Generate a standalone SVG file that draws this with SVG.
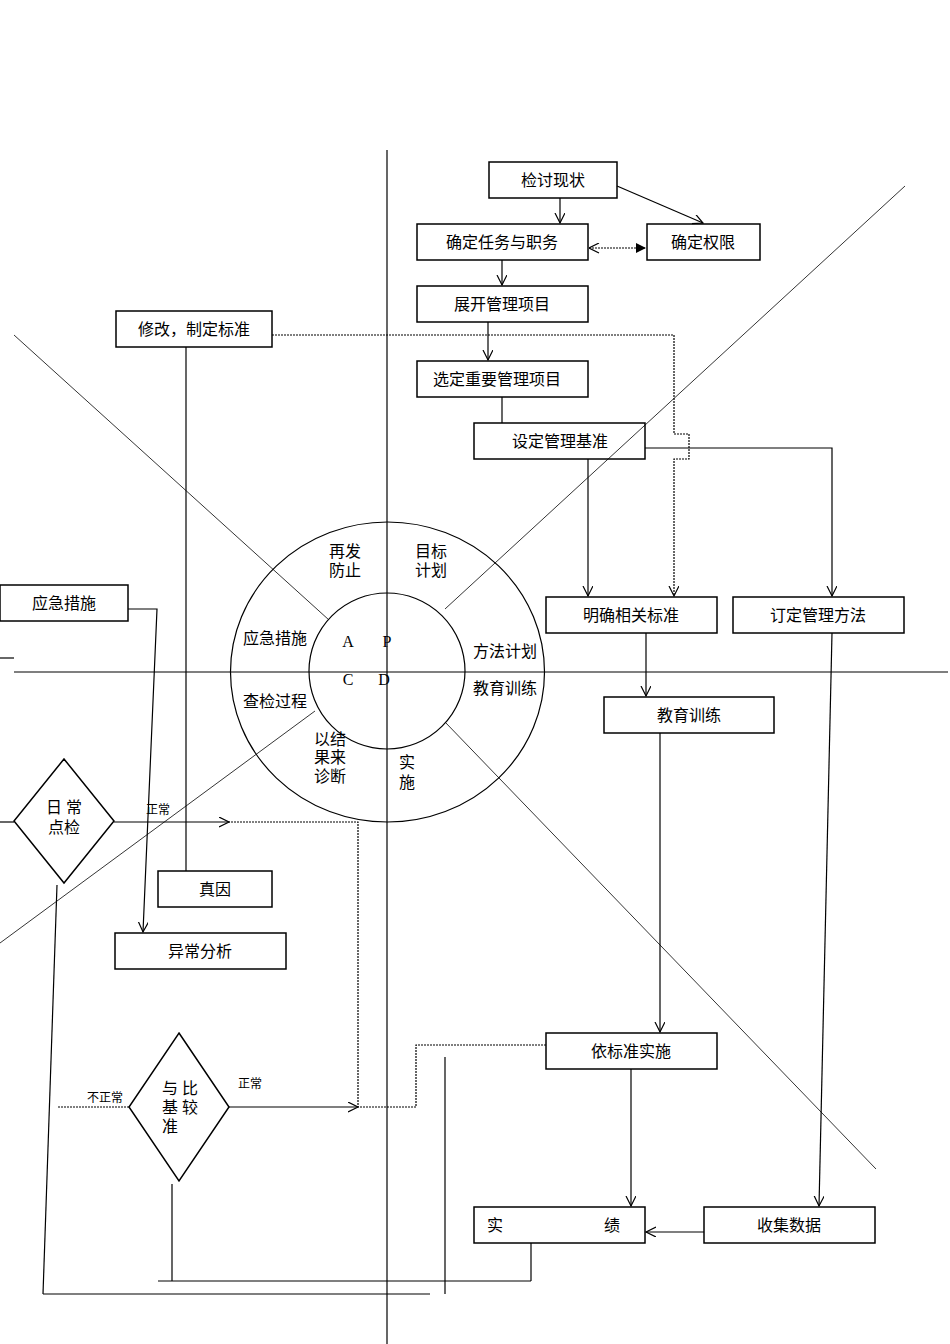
<svg xmlns="http://www.w3.org/2000/svg" width="950" height="1344" viewBox="0 0 950 1344">
<defs>
<marker id="a" markerWidth="12" markerHeight="12" refX="10" refY="5" orient="auto" markerUnits="userSpaceOnUse"><path d="M0,0 L10,5 L0,10" fill="none" stroke="#000" stroke-width="1.2"/></marker>
<marker id="f" markerWidth="12" markerHeight="12" refX="10" refY="5" orient="auto" markerUnits="userSpaceOnUse"><path d="M0,0 L10,5 L0,10Z" fill="#000"/></marker>
<marker id="s" markerWidth="12" markerHeight="12" refX="0" refY="5" orient="auto" markerUnits="userSpaceOnUse"><path d="M10,0 L0,5 L10,10" fill="none" stroke="#000" stroke-width="1.2"/></marker>
</defs>
<style>
rect,polygon{fill:none;stroke:#000;stroke-width:1.5}
text{font-family:"Liberation Serif","Noto Sans CJK SC",serif;font-size:16px;fill:#000;text-anchor:middle}
.sm{font-size:12px}
line,polyline{stroke:#000;stroke-width:1.2;fill:none}
.d{stroke-dasharray:2,1}
.t{stroke-width:0.8}
ellipse,circle{fill:none;stroke:#000;stroke-width:1.2}
</style>
<rect width="950" height="1344" style="fill:#fff;stroke:none"/>
<g id="axes">
<line x1="387" y1="150" x2="387" y2="1344"/>
<line x1="14" y1="672" x2="948" y2="672"/>
<line x1="0" y1="658" x2="14" y2="658"/>
<line class="t" x1="14" y1="335" x2="329" y2="620"/>
<line class="t" x1="905" y1="186" x2="445" y2="609"/>
<line class="t" x1="445" y1="722" x2="876" y2="1169"/>
<line class="t" x1="315" y1="711" x2="0" y2="943"/>
</g>
<g id="cycle">
<ellipse cx="387.5" cy="672" rx="157" ry="150"/>
<circle cx="387" cy="671" r="78"/>
<text x="345" y="557">再发</text><text x="345" y="576">防止</text>
<text x="431" y="557">目标</text><text x="431" y="576">计划</text>
<text x="275" y="644">应急措施</text>
<text x="505" y="657">方法计划</text>
<text x="505" y="694">教育训练</text>
<text x="275" y="707">查检过程</text>
<text x="348" y="647">A</text><text x="387" y="647">P</text>
<text x="348" y="685">C</text><text x="384" y="685">D</text>
<text x="330" y="745">以结</text><text x="330" y="763">果来</text><text x="330" y="782">诊断</text>
<text x="407" y="768">实</text><text x="407" y="788">施</text>
</g>
<g id="connectors">
<line x1="560" y1="198" x2="560" y2="223" marker-end="url(#a)"/>
<line x1="617" y1="186" x2="703" y2="223" marker-end="url(#a)"/>
<line class="d" x1="589" y1="248" x2="646" y2="248" marker-start="url(#s)" marker-end="url(#f)"/>
<line x1="502" y1="260" x2="502" y2="285" marker-end="url(#a)"/>
<line x1="488" y1="322" x2="488" y2="360" marker-end="url(#a)"/>
<line x1="502" y1="397" x2="502" y2="423"/>
<line x1="588" y1="459" x2="588" y2="596" marker-end="url(#a)"/>
<polyline points="645,448 832,448 832,596" marker-end="url(#a)"/>
<polyline class="d" points="272,335 674,335 674,434 689,434 689,459 674,459 674,596" marker-end="url(#a)"/>
<line x1="646" y1="633" x2="646" y2="696" marker-end="url(#a)"/>
<line x1="660" y1="733" x2="660" y2="1032" marker-end="url(#a)"/>
<line x1="832" y1="633" x2="819" y2="1206" marker-end="url(#a)"/>
<line x1="631" y1="1069" x2="631" y2="1206" marker-end="url(#a)"/>
<line x1="704" y1="1232" x2="646" y2="1232" marker-end="url(#a)"/>
<polyline class="d" points="546,1045 416,1045 416,1107 358,1107 358,822 229,822"/>
<line x1="229" y1="1107" x2="358" y2="1107" marker-end="url(#a)"/>
<line x1="114" y1="822" x2="229" y2="822" marker-end="url(#a)"/>
<line x1="0" y1="822" x2="14" y2="822"/>
<line class="d" x1="58" y1="1107" x2="129" y2="1107"/>
<line x1="172" y1="1184" x2="172" y2="1281"/>
<line x1="158" y1="1281" x2="531" y2="1281"/>
<line x1="531" y1="1243" x2="531" y2="1281"/>
<line x1="445" y1="1057" x2="445" y2="1294"/>
<line x1="57" y1="885" x2="43" y2="1294"/>
<line x1="43" y1="1294" x2="430" y2="1294"/>
<line x1="186" y1="347" x2="186" y2="871"/>
<polyline points="128,609 157,609 143,932" marker-end="url(#a)"/>
<text class="sm" x="158" y="814">正常</text>
<text class="sm" x="250" y="1088">正常</text>
<text class="sm" x="105" y="1102">不正常</text>
</g>
<g id="n1"><rect x="489" y="162" width="128" height="36"/><text x="553" y="186">检讨现状</text></g>
<g id="n2"><rect x="417" y="224" width="171" height="36"/><text x="502" y="248">确定任务与职务</text></g>
<g id="n3"><rect x="647" y="224" width="113" height="36"/><text x="703" y="248">确定权限</text></g>
<g id="n4"><rect x="417" y="286" width="171" height="36"/><text x="502" y="310">展开管理项目</text></g>
<g id="n5"><rect x="417" y="361" width="171" height="36"/><text x="497" y="385">选定重要管理项目</text></g>
<g id="n6"><rect x="474" y="423" width="171" height="36"/><text x="560" y="447">设定管理基准</text></g>
<g id="n7"><rect x="116" y="311" width="156" height="36"/><text x="194" y="335">修改，制定标准</text></g>
<g id="n8"><rect x="546" y="597" width="171" height="36"/><text x="631" y="621">明确相关标准</text></g>
<g id="n9"><rect x="733" y="597" width="171" height="36"/><text x="818" y="621">订定管理方法</text></g>
<g id="n10"><rect x="604" y="697" width="170" height="36"/><text x="689" y="721">教育训练</text></g>
<g id="n11"><rect x="0" y="585" width="128" height="36"/><text x="64" y="609">应急措施</text></g>
<g id="n12"><rect x="158" y="871" width="114" height="36"/><text x="215" y="895">真因</text></g>
<g id="n13"><rect x="115" y="933" width="171" height="36"/><text x="200" y="957">异常分析</text></g>
<g id="n14"><rect x="546" y="1033" width="171" height="36"/><text x="631" y="1057">依标准实施</text></g>
<g id="n15"><rect x="474" y="1207" width="171" height="36"/><text x="495" y="1231">实</text><text x="612" y="1231">绩</text></g>
<g id="n16"><rect x="704" y="1207" width="171" height="36"/><text x="789" y="1231">收集数据</text></g>
<g id="n17"><polygon points="64,759 114,821 64,883 14,821"/><text x="64" y="813">日 常</text><text x="64" y="833">点检</text></g>
<g id="n18"><polygon points="179,1033 229,1107 179,1181 129,1107"/><text x="180" y="1094">与 比</text><text x="180" y="1113">基 较</text><text x="170" y="1132">准</text></g>
</svg>
